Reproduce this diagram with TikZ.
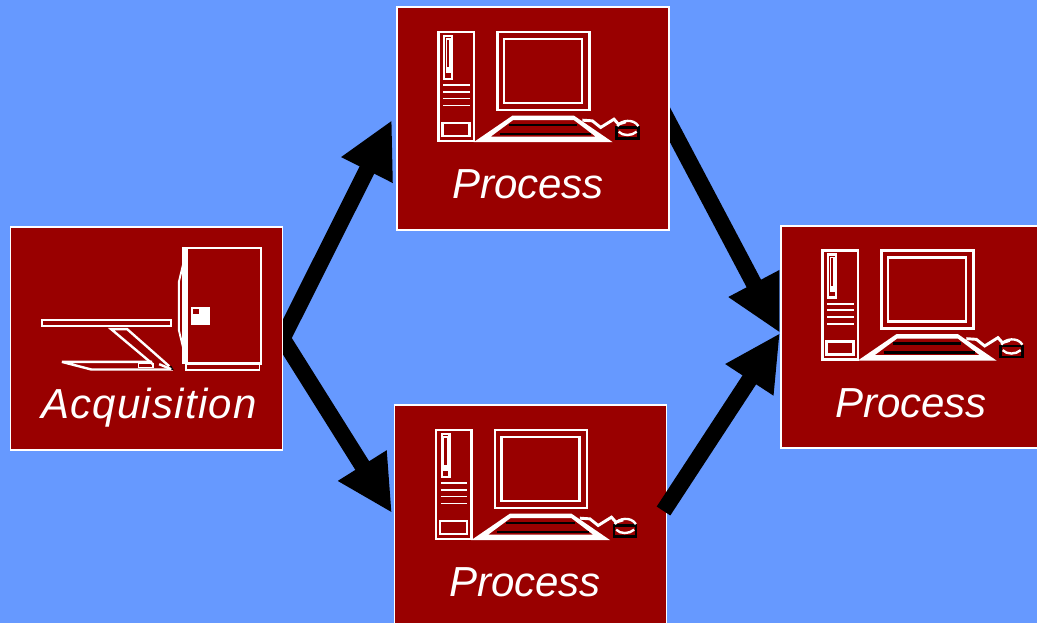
\documentclass[tikz,border=0pt]{standalone}
\usepackage{fontspec}
\setmainfont{Liberation Sans}
\usetikzlibrary{arrows.meta}
\definecolor{skyblue}{HTML}{6699FF}
\definecolor{darkred}{HTML}{990000}
\pgfdeclarelayer{under}
\pgfsetlayers{under,main}
\tikzset{
  x=0.75pt,y=-0.75pt,
  panel/.style={draw=white,line width=1.3pt,fill=darkred,minimum width=204pt,minimum height=167pt,inner sep=0pt,outer sep=0pt},
  caption/.style={text=white,anchor=base,inner sep=0pt,font=\itshape\fontsize{31.5pt}{36pt}\selectfont},
  flow/.style={line width=12.2pt,-{Triangle[length=42pt,width=40pt]},black},
  wl/.style={draw=white,line width=1.8pt},
  wt/.style={draw=white,line width=1.4pt},
  computer/.pic={
    \draw[wl] (40.7,24.7) rectangle (76.3,134);
    \draw[wl] (46.6,29) rectangle (54.4,72);
    \fill[white] (48,31) rectangle (53,66);
    \fill[darkred] (49.2,32.5) rectangle (51.8,60);
    \foreach \yy in {78,84.7,91.3,98.3} \draw[wt] (45.7,\yy) -- (72.3,\yy);
    \draw[wl] (44.7,115.7) rectangle (72,129);
    \draw[wl] (99.7,24.7) rectangle (192,103);
    \draw[wl] (106.5,32) rectangle (184.5,95.7);
    \fill[white,even odd rule] (76,135) -- (114.7,108.5) -- (176.3,108.5) -- (215,135) -- cycle
      (93,129.5) -- (115.3,113) -- (176.3,113) -- (198,129.5) -- cycle;
    \draw[black,line width=1.8pt] (111.3,118) -- (179.7,118) (102,127) -- (193.7,127);
    \draw[draw=white,line width=2.2pt] (184.7,113) -- (194.7,113.7) -- (203,120.3) -- (216.3,112) -- (220.7,117) -- (228,114.7);
    \draw[black,line width=1.8pt] (218.7,120.3) rectangle (240.7,131.3);
    \draw[wl] (219.7,119) .. controls (223,113) and (236,111) .. (240.7,119);
    \draw[wl] (221,124.5) .. controls (225,129) and (234,129) .. (239,124.5);
  },
  scanner/.pic={
    \draw[wl] (175,20.7) rectangle (250,136.3);
    \fill[white] (171.2,19.7) rectangle (176.7,137.3);
    \draw[wt] (171.7,38) -- (167.7,54.7) -- (167.7,103) -- (171.7,119.7);
    \fill[white] (180,80) rectangle (198.7,98);
    \fill[darkred] (182.3,82.3) rectangle (187.7,87);
    \draw[wt] (175,137.3) rectangle (248.3,143);
    \draw[wl] (31,92.7) rectangle (160,99);
    \draw[wl] (141.7,137) -- (100,102) -- (116,102) -- (158,139);
    \draw[wl] (50.7,134.7) -- (141,134.7) (50.7,134.7) -- (80,142.3) -- (161.7,142.3);
    \draw[wt] (127.3,136.3) rectangle (141.7,140.3);
    \fill[black] (158.5,139.5) -- (160,138.5) -- (162.5,142.8) -- (160.5,142.8) -- cycle;
    \draw[wl] (148,137) -- (160,142);
  }
}
\begin{document}
\begin{tikzpicture}
\path[use as bounding box,clip] (0,0) rectangle (1037,623);
\begin{pgfonlayer}{under}
  \fill[skyblue] (0,0) rectangle (1037,623);
\end{pgfonlayer}
\node[panel] (acq) at (146.5,338.5) {};
\node[panel] (top) at (533,118.5) {};
\node[panel] (low) at (530.5,516.5) {};
\node[panel] (res) at (917,337) {};
\pic at ([xshift=0.5pt]acq.north west) {scanner};
\pic at ([xshift=0.5pt]top.north west) {computer};
\pic at ([xshift=0.5pt]low.north west) {computer};
\pic at ([xshift=0.5pt]res.north west) {computer};
\node[caption] (acqlabel) at (149,418.5) {\addfontfeature{LetterSpace=3}Acquisition};
\node[caption] (toplabel) at (528,198.5) {Process};
\node[caption] (lowlabel) at (525,596) {Process};
\node[caption] (reslabel) at (911,417.5) {Process};
\coordinate (meet) at (780,333);
\coordinate (toptail) at (660,106);
\coordinate (lowtail) at (663.5,511);
\coordinate (uptip) at (392,120);
\coordinate (downtip) at (392,513);
\begin{pgfonlayer}{under}
  \draw[flow] (acq.east) -- (uptip);
  \draw[flow] (acq.east) -- (downtip);
  \draw[flow] (toptail) -- (meet);
\end{pgfonlayer}
\draw[flow] (lowtail) -- (meet);
\end{tikzpicture}
\end{document}
